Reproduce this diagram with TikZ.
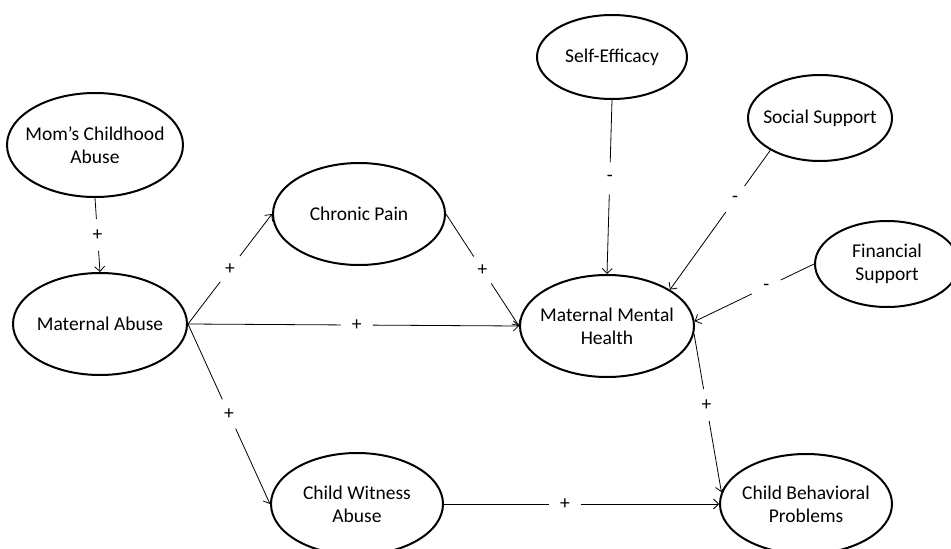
\documentclass[tikz,border=0pt]{standalone}
\usepackage{fontspec}
\setmainfont{Carlito}
\usetikzlibrary{shapes.geometric,arrows.meta}

\begin{document}
\begin{tikzpicture}[x=1pt,y=-1pt,ellipse_node/.style={ellipse,draw,line width=2pt,inner xsep=-25pt,inner ysep=0pt,align=center,font=\fontsize{19.5}{23}\selectfont},sign_node/.style={circle,fill=white,inner sep=0pt,minimum size=32pt,font=\fontsize{19.5}{23}\selectfont},>={Straight Barb[length=5pt,width=10pt]},line width=0.8pt]
		
		\useasboundingbox (0,0) rectangle (951,549);
		
		\node[ellipse_node,minimum width=176pt,minimum height=104pt] (moms) at (95,145) {Mom’s Childhood\\Abuse};
		\node[ellipse_node,minimum width=174pt,minimum height=102pt] (ma) at (100,324) {Maternal Abuse};
		\node[ellipse_node,minimum width=172pt,minimum height=102pt] (cp) at (359,214) {Chronic Pain};
		\node[ellipse_node,minimum width=172pt,minimum height=102pt] (cwa) at (357,504) {Child Witness\\Abuse};
		\node[ellipse_node,minimum width=174pt,minimum height=102pt] (mmh) at (607,326) {Maternal Mental\\Health};
		\node[ellipse_node,minimum width=150pt,minimum height=84pt] (se) at (612,57) {Self-Efficacy};
		\node[ellipse_node,minimum width=144pt,minimum height=86pt] (ss) at (820,118) {Social Support};
		\node[ellipse_node,minimum width=144pt,minimum height=86pt] (fs) at (887,264) {Financial\\Support};
		\node[ellipse_node,minimum width=172pt,minimum height=100pt] (cbp) at (806,504) {Child Behavioral\\Problems};
		
		\draw[->] (moms.south) -- node[sign_node]{+} (ma.north);
		\draw[->] (ma.east) -- node[sign_node]{+} (cp.west);
		\draw[->] (ma.east) -- node[sign_node,pos=0.51]{+} (mmh.west);
		\draw[->] (ma.east) -- node[sign_node]{+} (cwa.west);
		\draw[->] (cp.east) -- node[sign_node]{+} (mmh.west);
		\draw[->] (se.south) -- node[sign_node,pos=0.45]{-} (mmh.north);
		\draw[->] (ss.213) -- node[sign_node,pos=0.35]{-} (mmh.30);
		\draw[->] (fs.west) -- node[sign_node,pos=0.4]{-} (mmh.3);
		\draw[->] (mmh.-5) -- node[sign_node,pos=0.45]{+} (cbp.172);
		\draw[->] (cwa.east) -- node[sign_node,pos=0.44]{+} (cbp.west);
		\end{tikzpicture}
\end{document}
